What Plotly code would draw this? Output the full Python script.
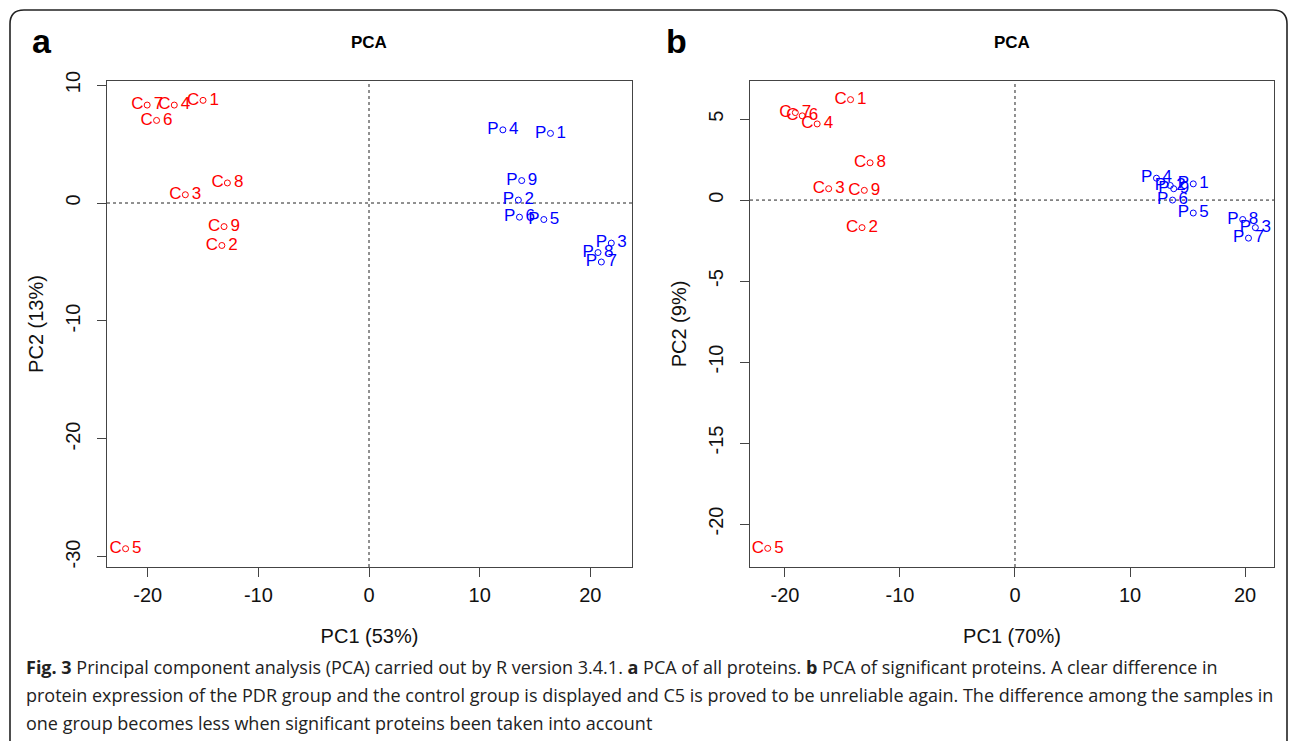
import plotly.graph_objects as go

# ---------------- data ----------------
labels_c = ["C1", "C2", "C3", "C4", "C5", "C6", "C7", "C8", "C9"]
labels_p = ["P1", "P2", "P3", "P4", "P5", "P6", "P7", "P8", "P9"]

# panel a: PCA of all proteins
a_c_pc1 = [-15.0, -13.3, -16.6, -17.6, -22.0, -19.2, -20.05, -12.8, -13.1]
a_c_pc2 = [8.7, -3.6, 0.7, 8.3, -29.3, 7.0, 8.3, 1.7, -2.0]
a_p_pc1 = [16.4, 13.5, 21.9, 12.1, 15.8, 13.6, 21.0, 20.7, 13.8]
a_p_pc2 = [5.9, 0.25, -3.4, 6.2, -1.4, -1.2, -5.0, -4.2, 1.9]

# panel b: PCA of significant proteins
b_c_pc1 = [-14.3, -13.3, -16.2, -17.2, -21.5, -18.5, -19.1, -12.6, -13.1]
b_c_pc2 = [6.2, -1.7, 0.7, 4.7, -21.5, 5.2, 5.4, 2.3, 0.6]
b_p_pc1 = [15.5, 13.5, 20.9, 12.3, 15.5, 13.7, 20.3, 19.8, 13.8]
b_p_pc2 = [1.0, 0.9, -1.7, 1.35, -0.8, 0.0, -2.35, -1.2, 0.7]

x_title_a = "PC1 (53%)"
y_title_a = "PC2 (13%)"
x_title_b = "PC1 (70%)"
y_title_b = "PC2 (9%)"
ticks_a_x = [-20, -10, 0, 10, 20]
ticks_a_y = [-30, -20, -10, 0, 10]
ticks_b_x = [-20, -10, 0, 10, 20]
ticks_b_y = [-20, -15, -10, -5, 0, 5]

caption_lines = [
    "<b>Fig. 3</b> Principal component analysis (PCA) carried out by R version 3.4.1. <b>a</b> PCA of all proteins. "
    "<b>b</b> PCA of significant proteins. A clear difference in",
    "protein expression of the PDR group and the control group is displayed and C5 is proved to be unreliable again. "
    "The difference among the samples in",
    "one group becomes less when significant proteins been taken into account",
]

# ---------------- layout helpers ----------------
W, H = 1293, 741
FONT = "Liberation Sans"
RED = "#ff0000"
BLUE = "#0000ff"


def spaced(lbl):
    return lbl[0] + "\u2009\u2009\u2009" + lbl[1:]


def tick_text(vals):
    return [str(v) for v in vals]


fig = go.Figure()


def add_group(xs, ys, labels, color, xa, ya):
    fig.add_trace(go.Scatter(
        x=xs, y=ys, mode="markers+text",
        text=[spaced(l) for l in labels], textposition="middle center",
        textfont=dict(family=FONT, size=17, color=color),
        marker=dict(symbol="circle-open", size=6, color=color, line=dict(width=1, color=color)),
        xaxis=xa, yaxis=ya, showlegend=False, hoverinfo="text", cliponaxis=False,
    ))


add_group(a_c_pc1, a_c_pc2, labels_c, RED, "x", "y")
add_group(a_p_pc1, a_p_pc2, labels_p, BLUE, "x", "y")
add_group(b_c_pc1, b_c_pc2, labels_c, RED, "x2", "y2")
add_group(b_p_pc1, b_p_pc2, labels_p, BLUE, "x2", "y2")

axis_common = dict(
    showgrid=False, zeroline=False, showline=True, mirror=True,
    linecolor="#444", linewidth=1.3, ticks="outside", ticklen=9,
    tickcolor="#444", tickwidth=1.3, automargin=False,
    tickfont=dict(family=FONT, size=20, color="#111"),
    title_font=dict(family=FONT, size=20, color="#111"),
)

fig.update_layout(
    width=W, height=H,
    margin=dict(l=0, r=0, t=0, b=0, pad=0, autoexpand=False),
    paper_bgcolor="white", plot_bgcolor="white",
    xaxis=dict(domain=[107 / W, 632 / W], range=[-23.68, 23.77], tickvals=ticks_a_x,
               ticktext=tick_text(ticks_a_x), ticklabelstandoff=1,
               anchor="y", title=dict(text=x_title_a, standoff=23), **axis_common),
    yaxis=dict(domain=[1 - 567 / H, 1 - 81 / H], range=[-30.85, 10.34], tickvals=ticks_a_y,
               ticktext=tick_text(ticks_a_y), ticklabelstandoff=9,
               tickangle=-90, anchor="x", title=dict(text=y_title_a, standoff=12), **axis_common),
    xaxis2=dict(domain=[750 / W, 1274 / W], range=[-23.04, 22.52], tickvals=ticks_b_x,
                ticktext=tick_text(ticks_b_x), ticklabelstandoff=1,
                anchor="y2", title=dict(text=x_title_b, standoff=23), **axis_common),
    yaxis2=dict(domain=[1 - 567 / H, 1 - 81 / H], range=[-22.65, 7.35], tickvals=ticks_b_y,
                ticktext=tick_text(ticks_b_y), ticklabelstandoff=9,
                tickangle=-90, anchor="x2", title=dict(text=y_title_b, standoff=12), **axis_common),
)

shapes = []
for xr, yr in (("x", "y"), ("x2", "y2")):
    shapes.append(dict(type="line", xref=xr, yref=yr + " domain", x0=0, x1=0, y0=0, y1=1,
                       line=dict(color="#222", width=1, dash="dot"), layer="below"))
    shapes.append(dict(type="line", xref=xr + " domain", yref=yr, x0=0, x1=1, y0=0, y1=0,
                       line=dict(color="#222", width=1, dash="dot"), layer="below"))

# outer rounded frame
x0, x1, y0 = 10 / W, 1287 / W, 1 - 10 / H
r = 14
rx, ry = r / W, r / H
path = (f"M {x0},-0.05 L {x0},{y0 - ry} Q {x0},{y0} {x0 + rx},{y0} "
        f"L {x1 - rx},{y0} Q {x1},{y0} {x1},{y0 - ry} L {x1},-0.05")
shapes.append(dict(type="path", xref="paper", yref="paper", path=path,
                   line=dict(color="#222", width=1.6)))
fig.update_layout(shapes=shapes)

ann = []
ann.append(dict(text="<b>a</b>", x=30 / W, y=1 - 20 / H, xref="paper", yref="paper",
                xanchor="left", yanchor="top", showarrow=False,
                font=dict(family=FONT, size=34, color="#000")))
ann.append(dict(text="<b>b</b>", x=664 / W, y=1 - 20 / H, xref="paper", yref="paper",
                xanchor="left", yanchor="top", showarrow=False,
                font=dict(family=FONT, size=34, color="#000")))
ann.append(dict(text="<b>PCA</b>", x=369 / W, y=1 - 43 / H, xref="paper", yref="paper",
                xanchor="center", yanchor="middle", showarrow=False,
                font=dict(family=FONT, size=17, color="#000")))
ann.append(dict(text="<b>PCA</b>", x=1012 / W, y=1 - 43 / H, xref="paper", yref="paper",
                xanchor="center", yanchor="middle", showarrow=False,
                font=dict(family=FONT, size=17, color="#000")))
for i, line in enumerate(caption_lines):
    ann.append(dict(text=line, x=24 / W, y=1 - (667 + 28 * i) / H, xref="paper", yref="paper",
                    xanchor="left", yanchor="middle", align="left", showarrow=False,
                    font=dict(family="Open Sans", size=18.0, color="#222")))
fig.update_layout(annotations=ann)

post = ("document.documentElement.style.margin='0';document.body.style.margin='0';"
        "document.documentElement.style.overflow='hidden';document.body.style.overflow='hidden';")
fig.write_html("out.html", config={"displayModeBar": False}, post_script=post)
